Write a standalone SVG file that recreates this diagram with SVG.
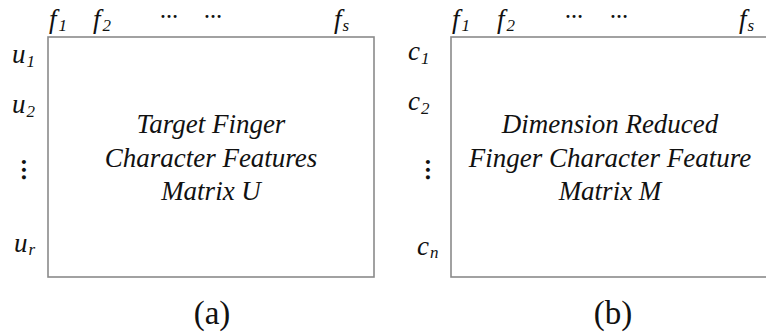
<svg xmlns="http://www.w3.org/2000/svg" width="766" height="334" viewBox="0 0 766 334" font-family="Liberation Serif, Times New Roman, Times, Nimbus Roman, FreeSerif, Noto Serif, DejaVu Serif, serif">
<style>
.box{fill:#fff;stroke:#8a8a8a;stroke-width:1.6}
text{font-family:Liberation Serif, Times New Roman, Times, Nimbus Roman, FreeSerif, Noto Serif, DejaVu Serif, serif;fill:#111}
.it{font-style:italic}
.main{font-size:27px;text-anchor:middle}
.lab{font-size:27px}
.sub{font-size:17px}
.dots{font-size:18px;font-weight:bold}
.vd{font-size:24px;font-weight:bold;text-anchor:middle}
.cap{font-size:33px;text-anchor:middle}
</style>
<rect width="766" height="334" fill="#fff"/>
<g id="matrixA">
<rect class="box" x="48" y="37" width="326" height="240"/>
<text class="it main" x="211" y="133">Target Finger</text>
<text class="it main" x="211" y="167">Character Features</text>
<text class="it main" x="211" y="200">Matrix U</text>
<text class="it lab" x="49" y="28">f<tspan class="sub" dx="2" dy="3">1</tspan></text>
<text class="it lab" x="93" y="28">f<tspan class="sub" dx="2" dy="3">2</tspan></text>
<text class="dots" x="160" y="18">…</text>
<text class="dots" x="204" y="18">…</text>
<text class="it lab" x="334" y="28">f<tspan class="sub" dx="1" dy="3">s</tspan></text>
<text class="it lab" x="12" y="63">u<tspan class="sub" dx="1" dy="4">1</tspan></text>
<text class="it lab" x="12" y="113">u<tspan class="sub" dx="1" dy="4">2</tspan></text>
<text class="vd" x="24" y="179">⋮</text>
<text class="it lab" x="14" y="252">u<tspan class="sub" dx="1" dy="3">r</tspan></text>
<text class="cap" x="212" y="324">(a)</text>
</g>
<g id="matrixB">
<rect class="box" x="451" y="37" width="330" height="240"/>
<text class="it main" x="610" y="133">Dimension Reduced</text>
<text class="it main" x="610" y="167">Finger Character Feature</text>
<text class="it main" x="610" y="200">Matrix M</text>
<text class="it lab" x="452" y="28">f<tspan class="sub" dx="2" dy="3">1</tspan></text>
<text class="it lab" x="497" y="28">f<tspan class="sub" dx="2" dy="3">2</tspan></text>
<text class="dots" x="565" y="18">…</text>
<text class="dots" x="610" y="18">…</text>
<text class="it lab" x="739" y="28">f<tspan class="sub" dx="1" dy="3">s</tspan></text>
<text class="it lab" x="408" y="60">c<tspan class="sub" dx="1" dy="4">1</tspan></text>
<text class="it lab" x="408" y="110">c<tspan class="sub" dx="1" dy="4">2</tspan></text>
<text class="vd" x="428" y="179">⋮</text>
<text class="it lab" x="417" y="255">c<tspan class="sub" dx="1" dy="3">n</tspan></text>
<text class="cap" x="613" y="324">(b)</text>
</g>
<g id="connectors"></g>
</svg>
